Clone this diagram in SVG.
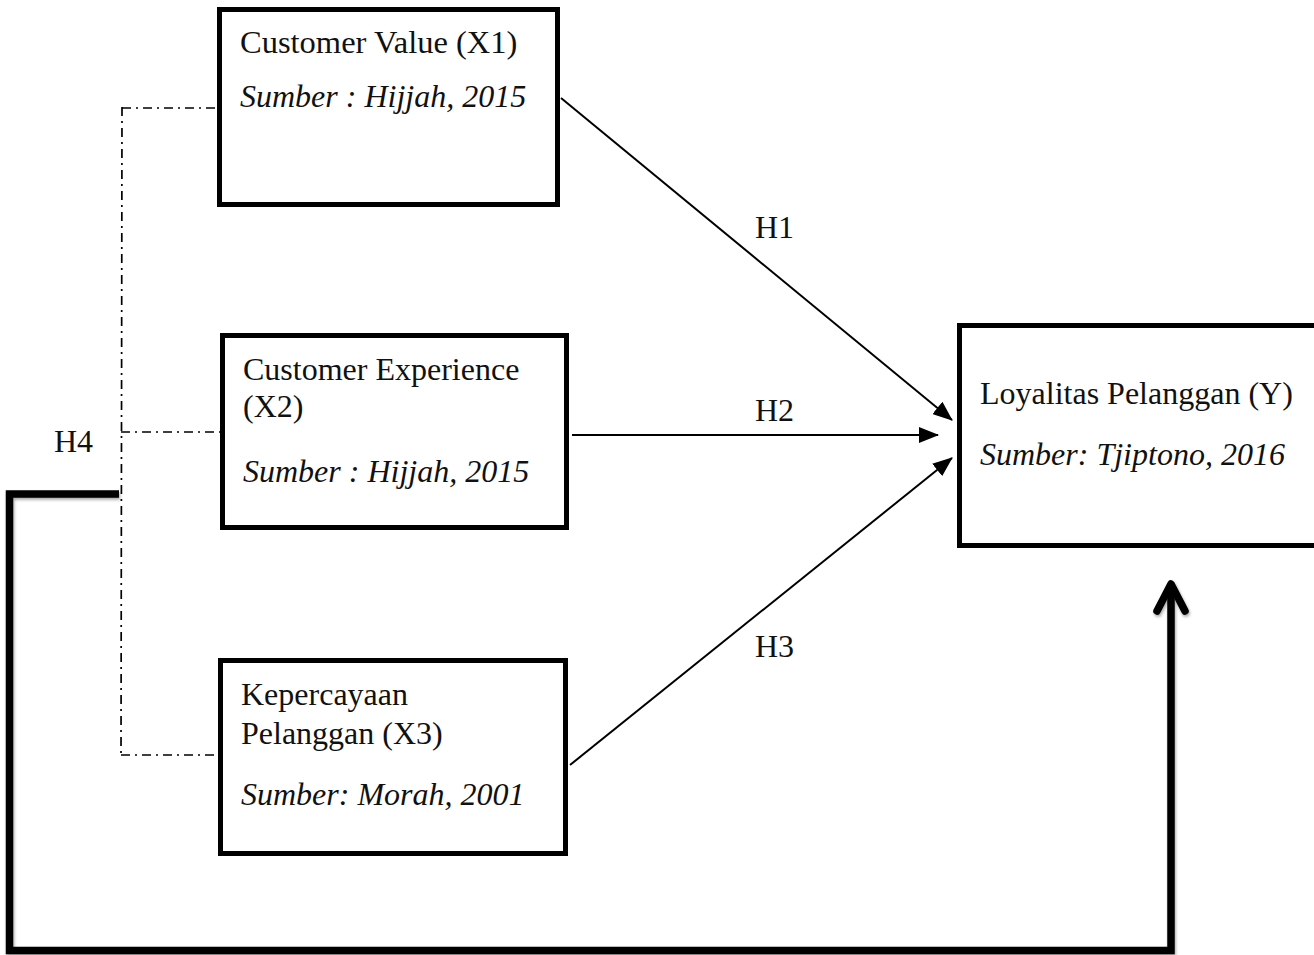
<svg xmlns="http://www.w3.org/2000/svg" width="1314" height="955" viewBox="0 0 1314 955">
<style>
  .box { fill: #fff; stroke: #000; stroke-width: 5; }
  .t { font-family: "Liberation Serif", "Times New Roman", serif; font-size: 32px; fill: #111; }
  .i { font-style: italic; }
  .conn { stroke: #000; stroke-width: 2; fill: none; }
  .dd { stroke: #000; stroke-width: 1.7; fill: none; stroke-dasharray: 9 5 2 5; }
  .thick { stroke: #000; stroke-width: 7.5; fill: none; }
</style>
<defs>
  <marker id="arrL" viewBox="0 0 20 16" refX="19" refY="8" markerWidth="20" markerHeight="16" markerUnits="userSpaceOnUse" orient="auto">
    <path d="M0,0 L20,8 L0,16 z" fill="#000"/>
  </marker>
  <filter id="sh" x="-5%" y="-5%" width="110%" height="110%">
    <feDropShadow dx="1" dy="2" stdDeviation="1.5" flood-color="#000" flood-opacity="0.35"/>
  </filter>
</defs>
<rect width="1314" height="955" fill="#fff"/>

<g id="connectors">
  <path class="dd" d="M122,107 L121,757"/>
  <path class="dd" d="M122,108 H217"/>
  <path class="dd" d="M121,432 H220"/>
  <path class="dd" d="M121,755 H218"/>
  <line class="conn" x1="561" y1="98" x2="952" y2="420" marker-end="url(#arrL)"/>
  <line class="conn" x1="572" y1="435" x2="938" y2="435" marker-end="url(#arrL)"/>
  <line class="conn" x1="570" y1="765" x2="952" y2="458" marker-end="url(#arrL)"/>
  <g filter="url(#sh)">
    <path class="thick" d="M119,494 H9.5 V950.5 H1171 V585" stroke-linejoin="miter"/>
    <polyline class="thick" points="1157,611 1171,584 1185,611" stroke-linecap="round" stroke-linejoin="round"/>
  </g>
  <text class="t" x="755" y="238">H1</text>
  <text class="t" x="755" y="421">H2</text>
  <text class="t" x="755" y="657">H3</text>
  <text class="t" x="54" y="452">H4</text>
</g>

<g id="x1">
  <rect class="box" x="219.5" y="9.5" width="338" height="195"/>
  <text class="t" x="240" y="53" style="font-size:32.5px">Customer Value (X1)</text>
  <text class="t i" x="240" y="107">Sumber : Hijjah, 2015</text>
</g>

<g id="x2">
  <rect class="box" x="222.5" y="335.5" width="344" height="192"/>
  <text class="t" x="243" y="380">Customer Experience</text>
  <text class="t" x="243" y="417">(X2)</text>
  <text class="t i" x="243" y="482">Sumber : Hijjah, 2015</text>
</g>

<g id="x3">
  <rect class="box" x="220.5" y="660.5" width="345" height="193"/>
  <text class="t" x="241" y="705">Kepercayaan</text>
  <text class="t" x="241" y="744">Pelanggan (X3)</text>
  <text class="t i" x="241" y="805">Sumber: Morah, 2001</text>
</g>

<g id="y">
  <rect class="box" x="959.5" y="325.5" width="400" height="220"/>
  <text class="t" x="980" y="404">Loyalitas Pelanggan (Y)</text>
  <text class="t i" x="980" y="465">Sumber: Tjiptono, 2016</text>
</g>
</svg>
